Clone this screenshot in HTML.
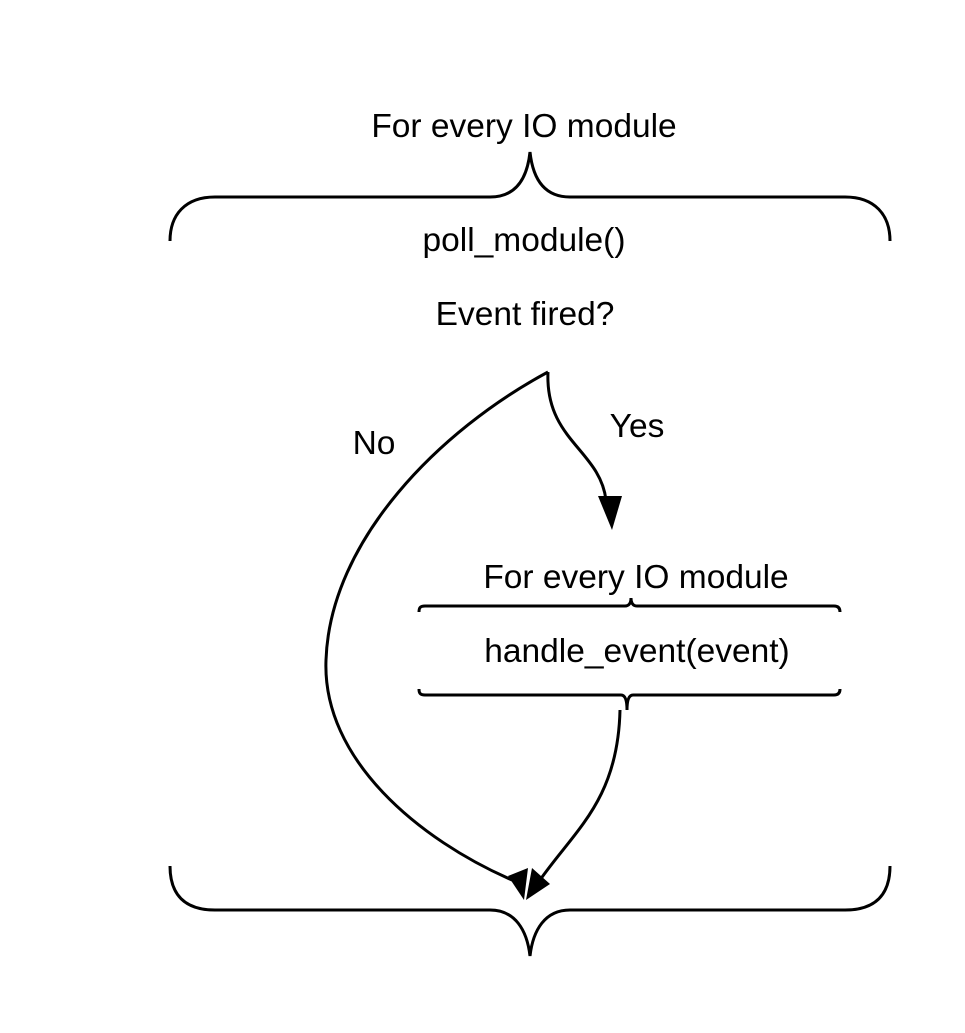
<!DOCTYPE html>
<html><head><style>
html,body{margin:0;padding:0;background:#fff;}
svg{display:block;}
text{font-family:"Liberation Sans",sans-serif;font-size:33.5px;fill:#000;}
</style></head><body>
<svg width="965" height="1033" viewBox="0 0 965 1033">
<g fill="none" stroke="#000" stroke-width="3">
<path d="M170,241 C170,215 185,197 215,197 L490,197 C515,197 527,180 530,152 C533,180 545,197 570,197 L845,197 C875,197 890,215 890,241"/>
<path d="M170,866 C170,895 185,910 215,910 L490,910 C515,910 527,930 530,956 C533,930 545,910 570,910 L845,910 C875,910 890,895 890,866"/>
<path d="M419,612 C419,608 420,606 425,606 L625,606 C629,606 631,603 631,598 C631,603 633,606 637,606 L834,606 C838,606 840,608 840,612"/>
<path d="M419,689 C419,693 420,695 425,695 L621,695 C625,695 627,700 627,710 C627,700 629,695 633,695 L834,695 C838,695 840,693 840,689"/>
<path d="M548,372 C440,430 330,540 326,660 C322,760 420,840 512,880"/>
<path d="M548,372 C545,440 600,450 606,500"/>
<path d="M620,710 C618,800 575,830 540,880"/>
</g>
<polygon points="612,530 598,496 622,496" fill="#000"/>
<polygon points="524,900 508,876 528,868" fill="#000"/>
<polygon points="526,900 550,884 532,868" fill="#000"/>
<text x="524" y="137" text-anchor="middle">For every IO module</text>
<text x="524" y="251" text-anchor="middle">poll_module()</text>
<text x="525" y="325" text-anchor="middle">Event fired?</text>
<text x="374" y="454" text-anchor="middle">No</text>
<text x="637" y="437" text-anchor="middle">Yes</text>
<text x="636" y="588" text-anchor="middle">For every IO module</text>
<text x="637" y="662" text-anchor="middle">handle_event(event)</text>
</svg>
</body></html>
